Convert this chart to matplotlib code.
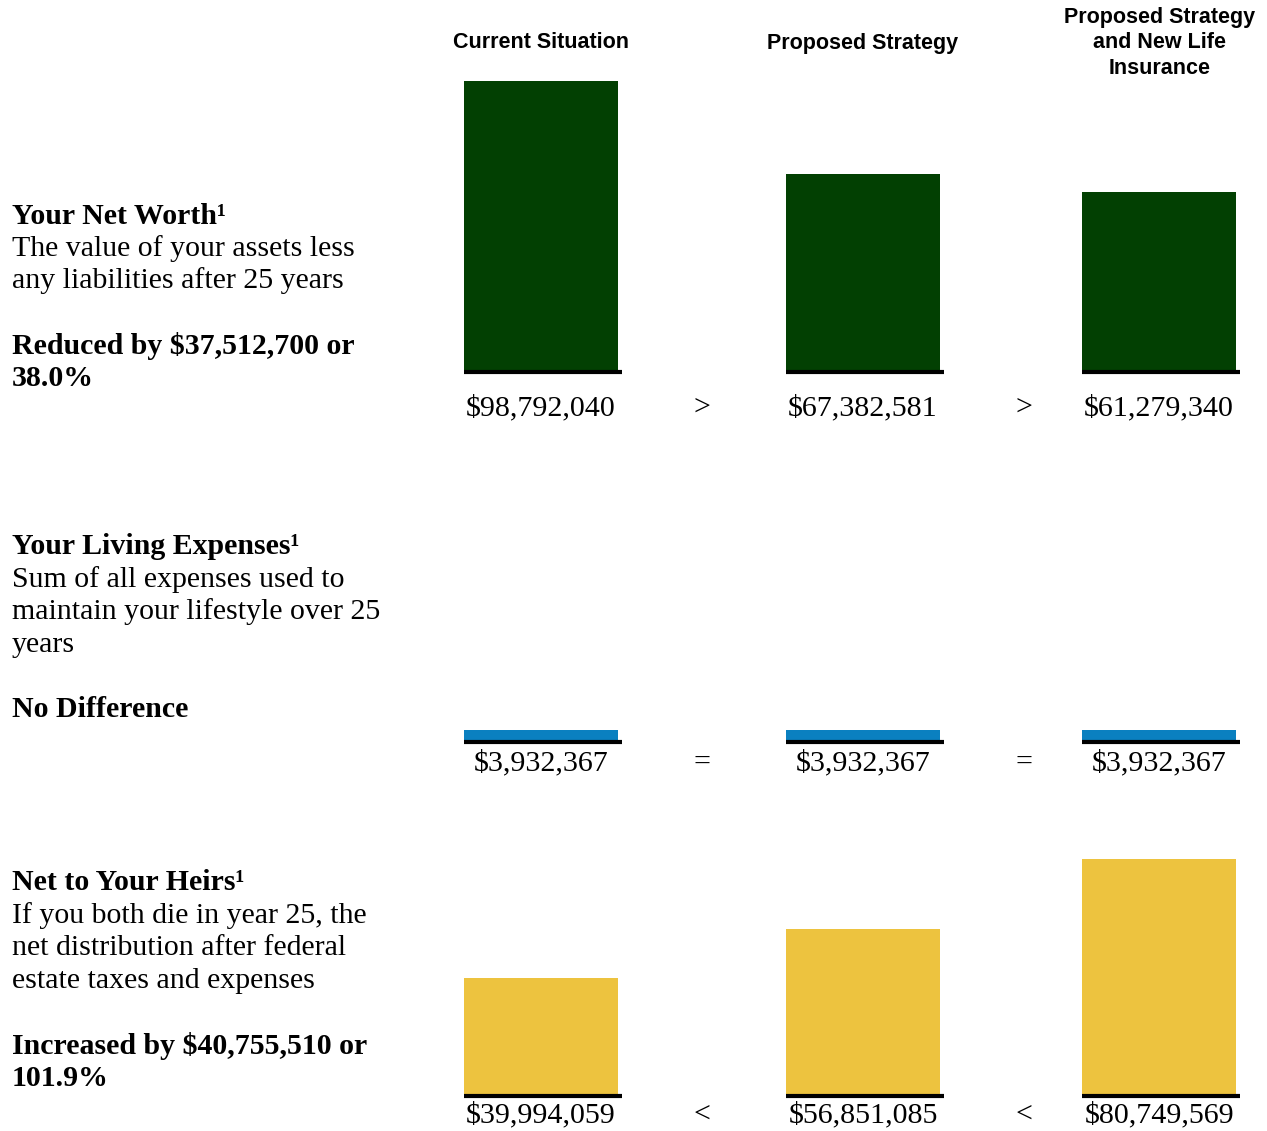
import matplotlib.pyplot as plt
from matplotlib import transforms

# Chart data
columns = ["Current Situation", "Proposed Strategy", "Proposed Strategy\nand New Life\nInsurance"]

net_worth = [98792040, 67382581, 61279340]
living_expenses = [3932367, 3932367, 3932367]
net_to_heirs = [39994059, 56851085, 80749569]

net_worth_signs = [">", ">"]
living_signs = ["=", "="]
heirs_signs = ["<", "<"]

row_titles = ["Your Net Worth¹", "Your Living Expenses¹", "Net to Your Heirs¹"]
row_descriptions = [
    ["The value of your assets less", "any liabilities after 25 years"],
    ["Sum of all expenses used to", "maintain your lifestyle over 25", "years"],
    ["If you both die in year 25, the", "net distribution after federal", "estate taxes and expenses"],
]
row_notes = [
    ["Reduced by $37,512,700 or", "38.0%"],
    ["No Difference"],
    ["Increased by $40,755,510 or", "101.9%"],
]

# Layout (pixels from top of a 1267x1131 canvas)
W, H = 1267, 1131
SERIF = "Liberation Serif"
SANS = "Liberation Sans"
colors = ["#024002", "#0A80C0", "#EDC33F"]
baselines = [372, 742, 1096]
label_tops = [216, 547, 883]
value_offsets = [36, 21, 19]
line_step = 32.5
x_pos = [0, 1, 1.92]
sign_pos = [0.5, 1.5]
bar_w = 0.478
y_top = 102e6      # value at 300 px above the baseline
px_above, px_below = 300, 5

fig = plt.figure(figsize=(W / 100, H / 100), dpi=100)

rows = [
    (net_worth, net_worth_signs),
    (living_expenses, living_signs),
    (net_to_heirs, heirs_signs),
]

axes = []
for i, (values, signs) in enumerate(rows):
    base = baselines[i]
    ax = fig.add_axes([380 / W, (H - base - px_below) / H, (W - 380) / W, (px_above + px_below) / H])
    ax.set_xlim(-0.5, 2.255)
    ax.set_ylim(-px_below * y_top / px_above, y_top)
    ax.axis("off")
    ax.bar(x_pos, values, width=bar_w, color=colors[i], zorder=2)
    for x, v in zip(x_pos, values):
        ax.hlines(0, x - bar_w / 2, x + bar_w / 2 + 0.012, color="black", lw=3, zorder=3)
        ax.annotate(f"${v:,}", xy=(x, 0), xytext=(0, -value_offsets[i] * 0.72),
                    textcoords="offset points", ha="center", va="center",
                    fontsize=21.6, family=SERIF, annotation_clip=False)
    for x, s in zip(sign_pos, signs):
        ax.annotate(s, xy=(x, 0), xytext=(0, -value_offsets[i] * 0.72),
                    textcoords="offset points", ha="center", va="center",
                    fontsize=21.6, family=SERIF, annotation_clip=False)
    axes.append(ax)

    # Left-hand description block
    y = label_tops[i]
    fig.text(12 / W, 1 - y / H, row_titles[i], fontsize=21.5, family=SERIF,
             weight="bold", va="center", ha="left")
    for line in row_descriptions[i]:
        y += line_step
        fig.text(12 / W, 1 - y / H, line, fontsize=21.5, family=SERIF, va="center", ha="left")
    y += line_step
    for line in row_notes[i]:
        y += line_step
        fig.text(12 / W, 1 - y / H, line, fontsize=21.5, family=SERIF,
                 weight="bold", va="center", ha="left")

# Column headers
trans = transforms.blended_transform_factory(axes[0].transData, fig.transFigure)
for x, name in zip(x_pos, columns):
    fig.text(x, 1 - 43 / H, name, transform=trans, ha="center", va="center",
             fontsize=15.5, family=SANS, weight="bold", linespacing=1.28)

fig.savefig("out.png", dpi=100)
